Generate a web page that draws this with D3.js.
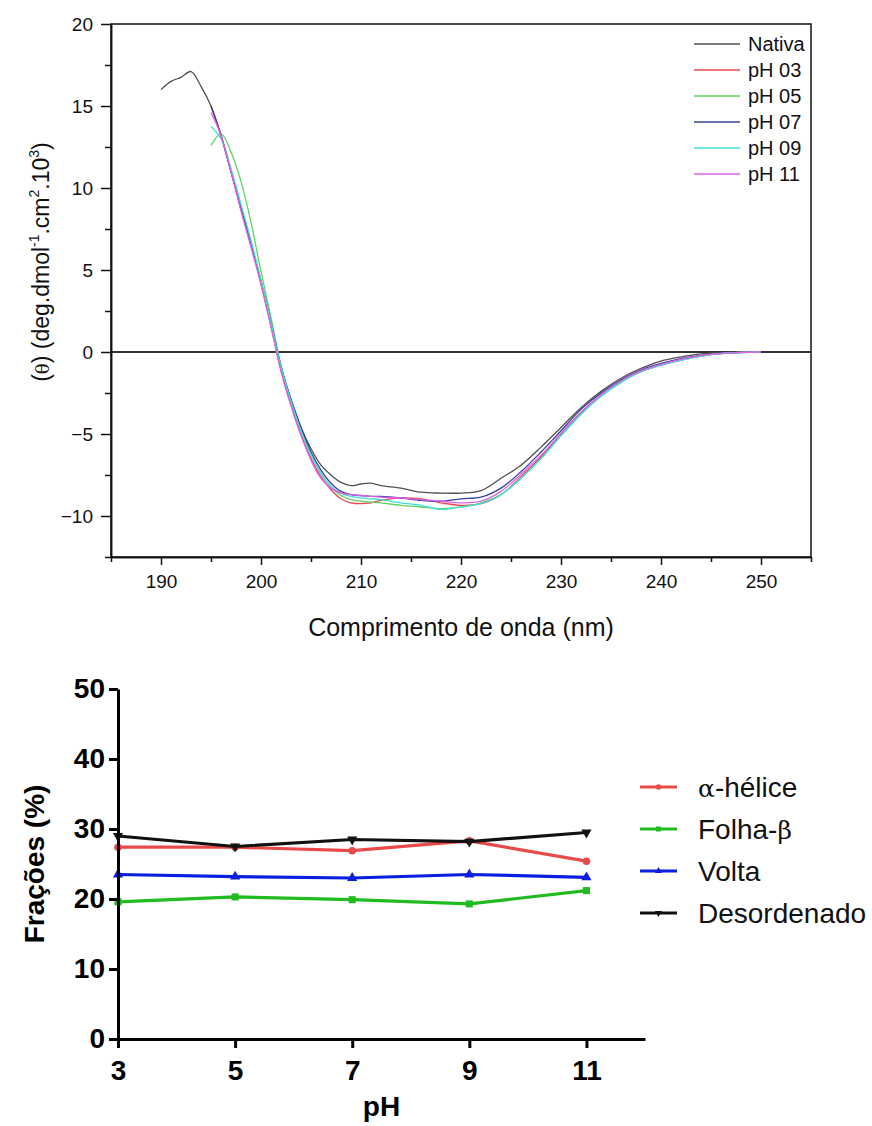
<!DOCTYPE html>
<html>
<head>
<meta charset="utf-8">
<script src="https://cdn.jsdelivr.net/npm/d3@7"></script>
<style>
  body { margin: 0; background: #fff; }
  svg { display: block; font-family: "Liberation Sans", Arial, sans-serif; }
</style>
</head>
<body>
<svg id="chart" width="872" height="1126"></svg>
<script>
// ---- CD spectra (deg.dmol-1.cm2.10^3), null = no reading
const wavelength = [190, 191, 192, 193, 194, 195, 196, 197, 198, 199, 200, 201, 202, 203, 204, 205, 206, 207, 208, 209, 210, 211, 212, 214, 216, 218, 220, 222, 224, 226, 228, 230, 232, 234, 236, 238, 240, 242, 244, 246, 248, 250];
const nativa = [16.0, 16.5, 16.75, 17.1, 16.2, 15.0, 13.2, 11.0, 8.8, 6.6, 4.3, 1.8, -0.9, -2.9, -4.6, -5.9, -6.9, -7.5, -7.95, -8.15, -8.05, -8.0, -8.15, -8.3, -8.55, -8.6, -8.6, -8.45, -7.7, -6.9, -5.8, -4.6, -3.4, -2.4, -1.6, -1.0, -0.55, -0.3, -0.12, -0.04, 0, 0];
const ph03 = [null, null, null, null, null, 15.0, 13.2, 11.0, 8.7, 6.5, 4.2, 1.6, -1.1, -3.2, -5.0, -6.5, -7.6, -8.4, -8.95, -9.2, -9.25, -9.2, -9.05, -8.9, -8.95, -9.2, -9.35, -9.25, -8.7, -7.6, -6.4, -5.0, -3.7, -2.6, -1.8, -1.2, -0.8, -0.5, -0.25, -0.1, -0.03, 0];
const ph05 = [null, null, null, null, null, 12.6, 13.3, 12.2, 10.4, 7.9, 4.9, 2.1, -0.8, -3.0, -4.8, -6.3, -7.4, -8.2, -8.75, -9.0, -9.1, -9.15, -9.2, -9.35, -9.45, -9.55, -9.45, -9.2, -8.7, -7.7, -6.5, -5.1, -3.8, -2.7, -1.85, -1.2, -0.8, -0.5, -0.25, -0.1, -0.03, 0];
const ph07 = [null, null, null, null, null, 15.0, 13.2, 11.0, 8.8, 6.6, 4.3, 1.8, -0.9, -2.9, -4.6, -6.1, -7.2, -8.0, -8.5, -8.7, -8.75, -8.8, -8.8, -8.9, -9.05, -9.1, -8.95, -8.85, -8.3, -7.3, -6.1, -4.8, -3.5, -2.5, -1.7, -1.1, -0.7, -0.4, -0.2, -0.08, -0.02, 0];
const ph09 = [null, null, null, null, null, 13.75, 13.0, 11.2, 9.0, 6.8, 4.4, 1.8, -0.9, -3.0, -4.8, -6.3, -7.4, -8.2, -8.6, -8.8, -8.9, -8.95, -9.0, -9.2, -9.35, -9.6, -9.45, -9.25, -8.7, -7.7, -6.5, -5.1, -3.8, -2.7, -1.85, -1.2, -0.8, -0.5, -0.25, -0.1, -0.03, 0];
const ph11 = [null, null, null, null, null, 14.6, 13.2, 11.0, 8.6, 6.4, 4.1, 1.5, -1.2, -3.3, -5.1, -6.6, -7.7, -8.3, -8.6, -8.7, -8.75, -8.8, -8.85, -8.9, -9.0, -9.1, -9.2, -9.1, -8.5, -7.45, -6.3, -4.95, -3.65, -2.6, -1.75, -1.15, -0.75, -0.45, -0.22, -0.09, -0.02, 0];
const spectraNames = ['Nativa', 'pH 03', 'pH 05', 'pH 07', 'pH 09', 'pH 11'];
const spectraColors = ['#505050', '#e8474f', '#5fd35f', '#3a3f9e', '#40e0d8', '#e060e8'];
const spectraTicks = [190, 200, 210, 220, 230, 240, 250];
const thetaTicks = [-10, -5, 0, 5, 10, 15, 20];

// ---- secondary structure fractions (%)
const phValues = [3, 5, 7, 9, 11];
const helix = [27.4, 27.4, 26.9, 28.3, 25.4];
const sheet = [19.6, 20.3, 19.9, 19.3, 21.2];
const turn = [23.5, 23.2, 23.0, 23.5, 23.1];
const disordered = [29.0, 27.5, 28.5, 28.2, 29.5];
const fracNames = ['α-hélice', 'Folha-β', 'Volta', 'Desordenado'];
const fracColors = ['#e84a4a', '#1fbb1f', '#0a1fe0', '#111111'];
const fracTicks = [0, 10, 20, 30, 40, 50];

const svg = d3.select('#chart');

// =============== top: CD spectrum ===============
const x1 = d3.scaleLinear().domain([185, 255]).range([111, 811]);
const y1 = d3.scaleLinear().domain([-12.5, 20]).range([557, 24]);
const topG = svg.append('g');

// frame
topG.append('rect')
    .attr('x', x1(185)).attr('y', y1(20))
    .attr('width', x1(255) - x1(185)).attr('height', y1(-12.5) - y1(20))
    .attr('fill', 'none').attr('stroke', '#111').attr('stroke-width', 1.5);

// zero line
topG.append('line')
    .attr('x1', x1(185)).attr('x2', x1(255))
    .attr('y1', y1(0)).attr('y2', y1(0))
    .attr('stroke', '#333').attr('stroke-width', 2);

topG.append('g').attr('transform', `translate(${x1(185)},0)`)
    .call(d3.axisLeft(y1).tickValues(thetaTicks).tickSize(10).tickSizeOuter(0).tickPadding(8));
topG.append('g').attr('transform', `translate(${x1(185)},0)`)
    .call(d3.axisLeft(y1).tickValues(thetaTicks.map(d => d - 2.5)).tickSize(6).tickSizeOuter(0).tickFormat(''));
topG.append('g').attr('transform', `translate(0,${y1(-12.5)})`)
    .call(d3.axisBottom(x1).tickValues(spectraTicks).tickSize(8).tickSizeOuter(0).tickPadding(10));
topG.append('g').attr('transform', `translate(0,${y1(-12.5)})`)
    .call(d3.axisBottom(x1).tickValues(spectraTicks.map(d => d - 5).concat([255])).tickSize(5).tickSizeOuter(0).tickFormat(''));
topG.selectAll('.domain').attr('stroke', '#111').attr('stroke-width', 1.5);
topG.selectAll('.tick line').attr('stroke', '#111').attr('stroke-width', 1.5);
topG.selectAll('.tick text').attr('font-size', 19).attr('fill', '#111')
    .attr('font-family', '"Liberation Sans", Arial, sans-serif');

// spectra lines
const spectra = [nativa, ph03, ph05, ph07, ph09, ph11];
const specLine = d3.line()
    .defined(d => d.v != null)
    .x(d => x1(d.w))
    .y(d => y1(d.v))
    .curve(d3.curveCatmullRom);
spectra.forEach((s, i) => {
    topG.append('path')
        .attr('d', specLine(wavelength.map((w, j) => ({ w: w, v: s[j] }))))
        .attr('fill', 'none')
        .attr('stroke', spectraColors[i])
        .attr('stroke-width', 1.3);
});

// legend
spectraNames.forEach((n, i) => {
    const ly = 44 + i * 26;
    topG.append('line').attr('x1', 694).attr('x2', 740).attr('y1', ly).attr('y2', ly)
        .attr('stroke', spectraColors[i]).attr('stroke-width', 1.3);
    topG.append('text').attr('x', 748).attr('y', ly).attr('dy', '0.36em')
        .attr('font-size', 20).attr('fill', '#111').text(n);
});

// axis titles
topG.append('text')
    .attr('x', (x1(185) + x1(255)) / 2).attr('y', 636)
    .attr('text-anchor', 'middle').attr('font-size', 25).attr('fill', '#111')
    .text('Comprimento de onda (nm)');

const yl = topG.append('text')
    .attr('transform', 'translate(49,262) rotate(-90)')
    .attr('text-anchor', 'middle').attr('font-size', 23).attr('fill', '#111');
yl.append('tspan').text('(');
yl.append('tspan').attr('font-family', '"DejaVu Serif", serif').attr('font-size', 18).text('θ');
yl.append('tspan').text(') (deg.dmol');
yl.append('tspan').attr('dy', -10).attr('font-size', 14).text('-1');
yl.append('tspan').attr('dy', 10).text('.cm');
yl.append('tspan').attr('dy', -10).attr('font-size', 14).text('2');
yl.append('tspan').attr('dy', 10).text('.10');
yl.append('tspan').attr('dy', -10).attr('font-size', 14).text('3');
yl.append('tspan').attr('dy', 10).text(')');

// =============== bottom: fractions ===============
const x2 = d3.scaleLinear().domain([3, 12]).range([118, 645]);
const y2 = d3.scaleLinear().domain([0, 50]).range([1039, 689]);
const botG = svg.append('g');

const series = [helix, sheet, turn, disordered];
const symbols = [
    d3.symbol().type(d3.symbolCircle).size(45),
    d3.symbol().type(d3.symbolSquare).size(50),
    d3.symbol().type(d3.symbolTriangle).size(45),
    d3.symbol().type(d3.symbolTriangle).size(45)
];
const symRot = [0, 0, 0, 180];

const fracLine = d3.line().x(d => x2(d.ph)).y(d => y2(d.v));
series.forEach((s, i) => {
    const pts = phValues.map((p, j) => ({ ph: p, v: s[j] }));
    botG.append('path').attr('d', fracLine(pts))
        .attr('fill', 'none').attr('stroke', fracColors[i]).attr('stroke-width', 3.2);
    botG.selectAll(null).data(pts).enter().append('path')
        .attr('d', symbols[i]())
        .attr('transform', d => `translate(${x2(d.ph)},${y2(d.v)}) rotate(${symRot[i]})`)
        .attr('fill', fracColors[i]);
});

botG.append('g').attr('transform', `translate(${x2(3)},0)`)
    .call(d3.axisLeft(y2).tickValues(fracTicks).tickSize(9).tickSizeOuter(0).tickPadding(4));
botG.append('g').attr('transform', `translate(0,${y2(0)})`)
    .call(d3.axisBottom(x2).tickValues(phValues).tickSize(9).tickSizeOuter(0).tickPadding(12));
botG.selectAll('.domain').attr('stroke', '#000').attr('stroke-width', 3);
botG.selectAll('.tick line').attr('stroke', '#000').attr('stroke-width', 3);
botG.selectAll('.tick text').attr('font-size', 28).attr('font-weight', 'bold').attr('fill', '#000')
    .attr('font-family', '"Liberation Sans", Arial, sans-serif');

botG.append('text')
    .attr('x', (x2(3) + x2(12)) / 2).attr('y', 1116)
    .attr('text-anchor', 'middle').attr('font-size', 28).attr('font-weight', 'bold')
    .text('pH');
botG.append('text')
    .attr('transform', 'translate(44,864) rotate(-90)')
    .attr('text-anchor', 'middle').attr('font-size', 28).attr('font-weight', 'bold')
    .text('Frações (%)');

// legend, greek letters in a serif face
fracNames.forEach((n, i) => {
    const ly = 787 + i * 42;
    botG.append('line').attr('x1', 640).attr('x2', 677).attr('y1', ly).attr('y2', ly)
        .attr('stroke', fracColors[i]).attr('stroke-width', 3.2);
    botG.append('path').attr('d', symbols[i]())
        .attr('transform', `translate(658.5,${ly}) rotate(${symRot[i]}) scale(0.7)`)
        .attr('fill', fracColors[i]);
    const t = botG.append('text').attr('x', 698).attr('y', ly).attr('dy', '0.36em')
        .attr('font-size', 28).attr('fill', '#111');
    n.split(/([αβ])/).filter(p => p).forEach(p => {
        const ts = t.append('tspan').text(p);
        if (/[αβ]/.test(p)) ts.attr('font-family', '"DejaVu Serif", serif').attr('font-size', 25);
    });
});
</script>
</body>
</html>
